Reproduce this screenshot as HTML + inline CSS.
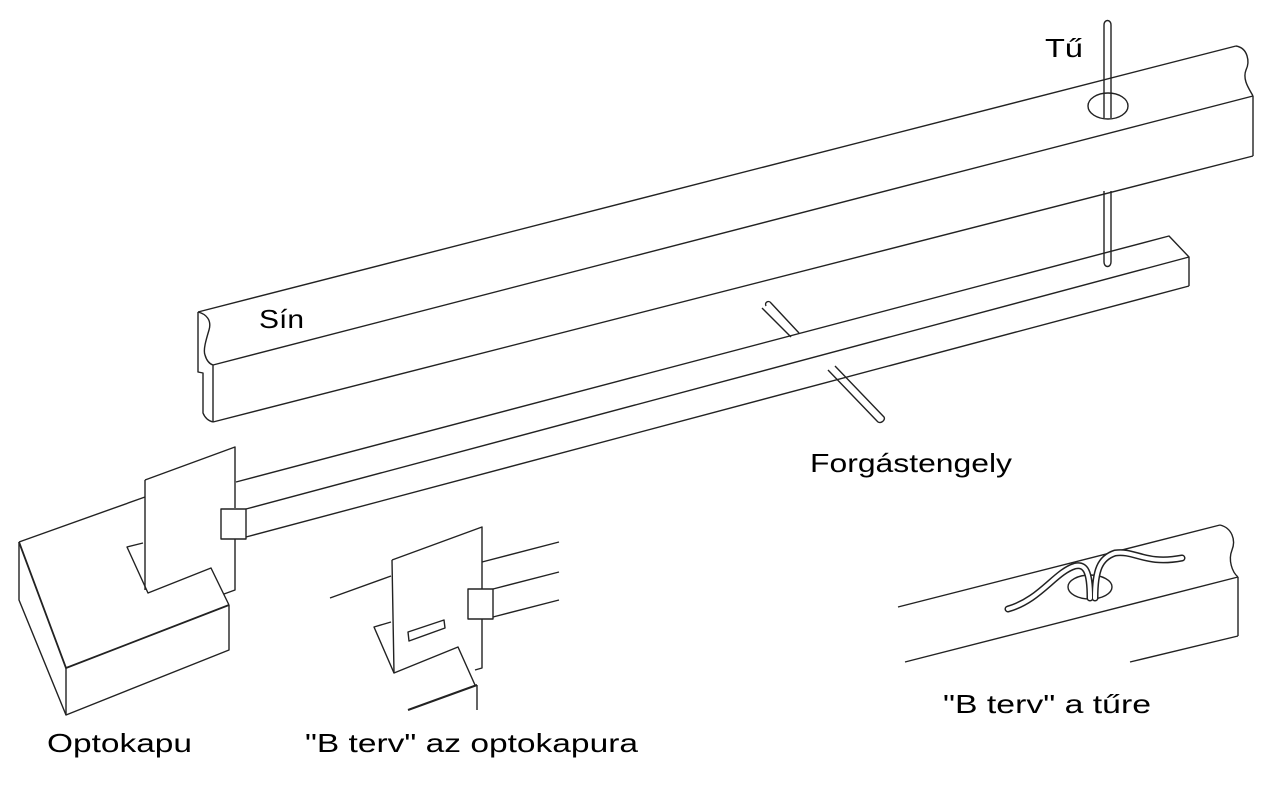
<!DOCTYPE html>
<html><head><meta charset="utf-8"><style>
html,body{margin:0;padding:0;background:#fff;}
svg{display:block}
text{font-family:"Liberation Sans",sans-serif;font-size:26px;fill:#000}
</style></head><body>
<svg width="1280" height="785" viewBox="0 0 1280 785" xmlns="http://www.w3.org/2000/svg">
<g fill="none" stroke="#222" stroke-width="1.4" stroke-linejoin="round">
<!-- Upper rail (Sin) -->
<path d="M198,312 L1236,46"/>
<path d="M213,365 L1253,96"/>
<path d="M213,422 L1253,156"/>
<path d="M1253,96 L1253,156"/>
<path d="M1236,46 C1248,48 1250,62 1246,70 C1242,80 1250,90 1253,96"/>
<path d="M198,312 C206,314 212,320 209,330 C206,340 203,350 205,355 C207,362 210,364 213,365 L213,422"/>
<path d="M198,312 L198,372 L203,373 L203,413 C205,418 209,421 213,422"/>
<!-- Pin (Tu) -->
<ellipse cx="1108" cy="106" rx="20" ry="13"/>
<path d="M1104,118 L1104,25 C1104,19 1111,19 1111,25 L1111,118"/>
<path d="M1104,191 L1104,262 C1104,268 1111,268 1111,262 L1111,191"/>
<!-- Lower beam -->
<path d="M236,482 L1169,236 L1189,257 L1189,286"/>
<path d="M246,509 L1189,257"/>
<path d="M246,537 L1189,286"/>
<!-- Axle -->
<path d="M766,306 C764,302 769,300 771,303 L799,333"/>
<path d="M762,308 L791,337"/>
<path d="M828,370 L877,421 C880,425 886,420 884,417 L835,366"/>
<!-- Optokapu box -->
<path d="M19,542 L19,600 L66,715 L229,650 L229,605"/>
<path d="M19,542 L66,668 L229,605" stroke-width="1.8"/>
<path d="M66,668 L66,715"/>
<path d="M19,542 L145,497"/>
<path d="M143,543 L127,547 L148,593 L211,568 L229,605"/>
<!-- plate -->
<path d="M145,480 L235,447 L235,508"/>
<path d="M235,539 L235,590 L224,594"/>
<path d="M145,480 L145,590"/>
<rect x="221" y="509" width="25" height="30"/>
<!-- B terv optokapu -->
<path d="M392,560 L482,527 L482,589"/>
<path d="M482,619 L482,668 L475,670"/>
<path d="M392,560 L394,673 L458,647 L475,685"/>
<path d="M330,598 L391,576"/>
<path d="M482,562 L559,542"/>
<rect x="468" y="589" width="25" height="30"/>
<path d="M493,589 L559,572"/>
<path d="M493,617 L559,600"/>
<path d="M408,632 L444,620 L445,628 L409,641 Z"/>
<path d="M391,622 L374,627 L394,673"/>
<path d="M408,710 L477,685" stroke-width="2"/>
<path d="M477,685 L477,710"/>
<!-- B terv tu -->
<path d="M898,607 L1220,525"/>
<path d="M905,662 L1238,577"/>
<path d="M1130,662 L1238,636"/>
<path d="M1238,577 L1238,636"/>
<path d="M1220,525 C1232,528 1236,540 1232,550 C1228,560 1232,572 1238,577"/>
<ellipse cx="1090" cy="587" rx="22" ry="12"/>
</g>
<g fill="none" stroke-linecap="round" stroke-linejoin="round">
<path d="M1008,609 C1040,600 1055,572 1075,566 C1085,564 1090,570 1090,598 M1095,598 C1095,570 1100,558 1115,553 C1135,550 1145,565 1182,558" stroke="#222" stroke-width="7"/>
<path d="M1008,609 C1040,600 1055,572 1075,566 C1085,564 1090,570 1090,598 M1095,598 C1095,570 1100,558 1115,553 C1135,550 1145,565 1182,558" stroke="#fff" stroke-width="4"/>
</g>
<text x="1045" y="57" textLength="38" lengthAdjust="spacingAndGlyphs">Tű</text>
<text x="259" y="328" textLength="45" lengthAdjust="spacingAndGlyphs">Sín</text>
<text x="810" y="472" textLength="202" lengthAdjust="spacingAndGlyphs">Forgástengely</text>
<text x="47" y="752" textLength="145" lengthAdjust="spacingAndGlyphs">Optokapu</text>
<text x="305" y="752" textLength="333" lengthAdjust="spacingAndGlyphs">"B terv" az optokapura</text>
<text x="943" y="713" textLength="208" lengthAdjust="spacingAndGlyphs">"B terv" a tűre</text>
</svg>
</body></html>
